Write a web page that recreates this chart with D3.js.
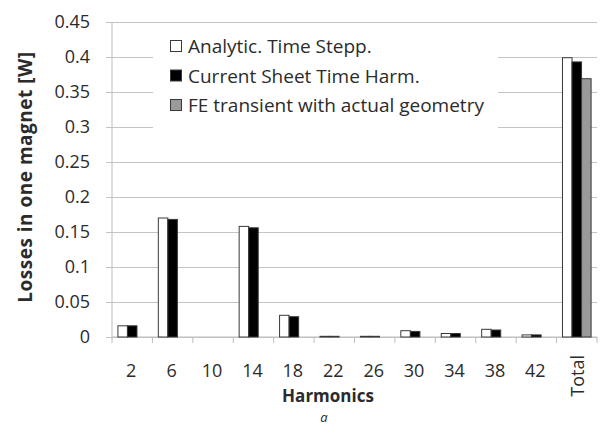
<!DOCTYPE html>
<html>
<head>
<meta charset="utf-8">
<script src="https://cdn.jsdelivr.net/npm/d3@7"></script>
<style>
  body { margin: 0; background: #fff; }
  text { font-family: "Open Sans", "Noto Sans", sans-serif; fill: #2b2b2b; }
</style>
</head>
<body>
<script>
var categories = ["2", "6", "10", "14", "18", "22", "26", "30", "34", "38", "42", "Total"];
var seriesNames = ["Analytic. Time Stepp.", "Current Sheet Time Harm.", "FE transient with actual geometry"];
var analytic = [0.016, 0.170, 0, 0.158, 0.031, 0.001, 0.001, 0.009, 0.005, 0.011, 0.003, 0.399];
var currentSheet = [0.016, 0.168, 0, 0.156, 0.029, 0.001, 0.001, 0.008, 0.005, 0.010, 0.003, 0.393];
var feTransient = [null, null, null, null, null, null, null, null, null, null, null, 0.369];
var yTicks = [0, 0.05, 0.1, 0.15, 0.2, 0.25, 0.3, 0.35, 0.4, 0.45];
var fills = ["#ffffff", "#000000", "#9a9a9a"];

var width = 602, height = 426;
var margin = {top: 22, right: 5, bottom: 89, left: 112};

var svg = d3.select("body").append("svg")
	.attr("width", width)
	.attr("height", height);

var x = d3.scaleBand()
	.domain(categories)
	.range([margin.left, width - margin.right])
	.padding(0);

var x1 = d3.scaleBand()
	.domain(seriesNames)
	.range([0, x.bandwidth()])
	.paddingInner(0)
	.paddingOuter(0.62);

var y = d3.scaleLinear()
	.domain([0, 0.45])
	.range([height - margin.bottom, margin.top]);

// gridlines + y axis
var yAxis = d3.axisLeft(y)
	.tickValues(yTicks)
	.tickSize(-(width - margin.right - margin.left))
	.tickPadding(22)
	.tickFormat(function(d) { return d3.format("")(+d.toFixed(2)); });

var gy = svg.append("g")
	.attr("transform", "translate(" + margin.left + ",0)")
	.call(yAxis);
gy.select(".domain").remove();
gy.selectAll(".tick line")
	.attr("x1", -6)
	.attr("stroke", "#c4c4c4");
gy.selectAll(".tick text")
	.style("font-size", "18px");

// legend background hides gridlines behind it
svg.append("rect")
	.attr("x", 153)
	.attr("y", 26)
	.attr("width", 345)
	.attr("height", 114)
	.attr("fill", "#fff");

// vertical axis line
svg.append("line")
	.attr("x1", margin.left).attr("x2", margin.left)
	.attr("y1", margin.top).attr("y2", y(0))
	.attr("stroke", "#bdbdbd");

// x axis with ticks between categories
var xg = svg.append("g")
	.attr("transform", "translate(0," + y(0) + ")");
xg.append("line")
	.attr("x1", margin.left).attr("x2", width - margin.right)
	.attr("stroke", "#bdbdbd");
xg.selectAll(".bnd")
	.data(categories.concat(["end"]))
	.enter().append("line")
	.attr("class", "bnd")
	.attr("x1", function(d, i) { return margin.left + i * x.step(); })
	.attr("x2", function(d, i) { return margin.left + i * x.step(); })
	.attr("y1", 0).attr("y2", 6)
	.attr("stroke", "#bdbdbd");

xg.selectAll(".lbl")
	.data(categories)
	.enter().append("text")
	.attr("class", "lbl")
	.style("font-size", "18px")
	.attr("transform", function(d) {
		var cx = x(d) + x.bandwidth() / 2;
		if (d == "Total") return "translate(" + (cx + 7) + ",18) rotate(-90)";
		return "translate(" + (cx - 1) + ",40)";
	})
	.attr("text-anchor", function(d) { return d == "Total" ? "end" : "middle"; })
	.text(function(d) { return d; });

// bars
var rows = categories.map(function(c, i) {
	return {cat: c, vals: [analytic[i], currentSheet[i], feTransient[i]]};
});

var grp = svg.selectAll(".grp")
	.data(rows)
	.enter().append("g")
	.attr("class", "grp")
	.attr("transform", function(d) { return "translate(" + x(d.cat) + ",0)"; });

grp.selectAll("rect")
	.data(function(d) {
		return d.vals.map(function(v, j) { return {s: seriesNames[j], v: v, j: j}; })
			.filter(function(e) { return e.v != null && e.v > 0; });
	})
	.enter().append("rect")
	.attr("x", function(d) { return x1(d.s); })
	.attr("width", x1.bandwidth())
	.attr("y", function(d) { return y(d.v); })
	.attr("height", function(d) { return y(0) - y(d.v); })
	.attr("fill", function(d) { return fills[d.j]; })
	.attr("stroke", "#3a3a3a")
	.attr("stroke-width", 1);

// legend
var leg = svg.selectAll(".leg")
	.data(seriesNames)
	.enter().append("g")
	.attr("class", "leg")
	.attr("transform", function(d, i) { return "translate(170," + (53 + i * 29.5) + ")"; });
leg.append("rect")
	.attr("x", 0.5).attr("y", -12.5)
	.attr("width", 11).attr("height", 11)
	.attr("fill", function(d, i) { return fills[i]; })
	.attr("stroke", "#3a3a3a");
leg.append("text")
	.attr("x", 18)
	.style("font-size", "19px")
	.text(function(d) { return d; });

// axis titles
svg.append("text")
	.attr("transform", "translate(32,177) rotate(-90)")
	.attr("text-anchor", "middle")
	.style("font-size", "19px")
	.style("font-weight", "bold")
	.style("letter-spacing", "0.5px")
	.text("Losses in one magnet [W]");

svg.append("text")
	.attr("x", 328).attr("y", 402)
	.attr("text-anchor", "middle")
	.style("font-size", "17px")
	.style("font-weight", "bold")
	.text("Harmonics");

svg.append("text")
	.attr("x", 324).attr("y", 422)
	.attr("text-anchor", "middle")
	.style("font-size", "13px")
	.style("font-style", "italic")
	.text("a");
</script>
</body>
</html>
